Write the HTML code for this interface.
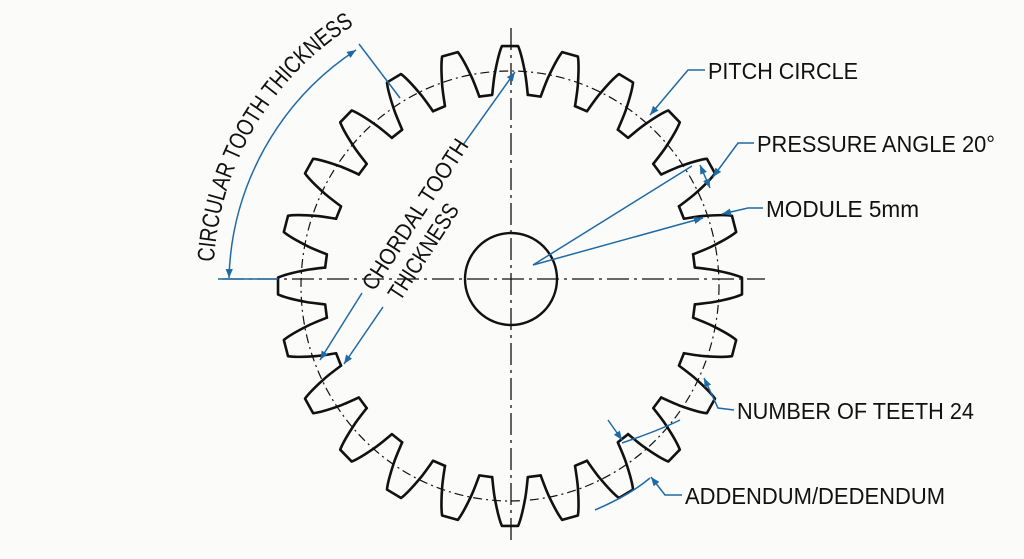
<!DOCTYPE html>
<html><head><meta charset="utf-8"><style>
html,body{margin:0;padding:0;background:#fbfbfa;}
svg{display:block}
text{font-family:"Liberation Sans",sans-serif;fill:#111;}
</style></head><body>
<svg width="1024" height="559" viewBox="0 0 1024 559" xmlns="http://www.w3.org/2000/svg">
<defs>
<marker id="a" viewBox="0 0 10 10" refX="10" refY="5" markerWidth="9" markerHeight="9" orient="auto-start-reverse" markerUnits="userSpaceOnUse"><path d="M0,1 L10,5 L0,9 Z" fill="#1f6aa5"/></marker>
<path id="arcT" d="M214,262 A298,298 0 0 1 370,16" fill="none"/>
<path id="t" d="M-31.7,-189.4 L-18.4,-191.1 Q-17,-205 -15.9,-211.4 Q-12,-232 -8.4,-239.9 L8.4,-239.9 Q12,-232 15.9,-211.4 Q17,-205 18.4,-191.1" fill="none" stroke="#111" stroke-width="2.6" stroke-linejoin="round" stroke-linecap="round" vector-effect="non-scaling-stroke"/>
</defs>
<rect width="1024" height="559" fill="#fbfbfa"/>
<line x1="511" y1="28" x2="511" y2="540" stroke="#111" stroke-width="1.3" stroke-dasharray="22,5,3,5"/>
<line x1="222" y1="279" x2="765" y2="279" stroke="#111" stroke-width="1.3" stroke-dasharray="22,5,3,5"/>
<ellipse cx="510" cy="286" rx="209" ry="215" fill="none" stroke="#111" stroke-width="1.2" stroke-dasharray="9,4,2,4"/>
<g transform="translate(510,286) scale(0.967,1)">
<use href="#t" transform="rotate(0)"/><use href="#t" transform="rotate(15)"/><use href="#t" transform="rotate(30)"/><use href="#t" transform="rotate(45)"/>
<use href="#t" transform="rotate(60)"/><use href="#t" transform="rotate(75)"/><use href="#t" transform="rotate(90)"/><use href="#t" transform="rotate(105)"/>
<use href="#t" transform="rotate(120)"/><use href="#t" transform="rotate(135)"/><use href="#t" transform="rotate(150)"/><use href="#t" transform="rotate(165)"/>
<use href="#t" transform="rotate(180)"/><use href="#t" transform="rotate(195)"/><use href="#t" transform="rotate(210)"/><use href="#t" transform="rotate(225)"/>
<use href="#t" transform="rotate(240)"/><use href="#t" transform="rotate(255)"/><use href="#t" transform="rotate(270)"/><use href="#t" transform="rotate(285)"/>
<use href="#t" transform="rotate(300)"/><use href="#t" transform="rotate(315)"/><use href="#t" transform="rotate(330)"/><use href="#t" transform="rotate(345)"/>
</g>
<circle cx="511" cy="279" r="46" fill="none" stroke="#111" stroke-width="2.4"/>
<g stroke="#1f6aa5" stroke-width="1.5" fill="none">
<path d="M229,278 A282,282 0 0 1 356,50" marker-start="url(#a)" marker-end="url(#a)"/>
<line x1="218" y1="279" x2="278" y2="279"/>
<line x1="359" y1="44" x2="400" y2="98"/>
<line x1="463" y1="145" x2="515" y2="72" marker-end="url(#a)"/>
<line x1="362" y1="293" x2="320" y2="360" marker-end="url(#a)"/>
<line x1="383" y1="307" x2="344" y2="364" marker-end="url(#a)"/>
<polyline points="705,70 688,70 650,115" marker-end="url(#a)"/>
<polyline points="754,143 738,143 713,177" marker-end="url(#a)"/>
<line x1="700" y1="165" x2="710" y2="188" marker-start="url(#a)" marker-end="url(#a)"/>
<polyline points="763,208 748,208 722,214" marker-end="url(#a)"/>
<line x1="533" y1="265" x2="692" y2="166"/>
<line x1="533" y1="265" x2="703" y2="218" marker-end="url(#a)"/>
<polyline points="734,410 718,408 704,378" marker-end="url(#a)"/>
<polyline points="682,495 665,495 651,477" marker-end="url(#a)"/>
<line x1="608" y1="420" x2="622" y2="440" marker-end="url(#a)"/>
<path d="M622,443 Q660,430 680,420"/>
<path d="M595,510 Q630,495 650,478"/>
</g>
<g font-size="23">
<text x="708" y="79" textLength="150" lengthAdjust="spacingAndGlyphs">PITCH CIRCLE</text>
<text x="757" y="152" textLength="238" lengthAdjust="spacingAndGlyphs">PRESSURE ANGLE 20°</text>
<text x="766" y="217" textLength="153" lengthAdjust="spacingAndGlyphs">MODULE 5mm</text>
<text x="737" y="419" textLength="237" lengthAdjust="spacingAndGlyphs">NUMBER OF TEETH 24</text>
<text x="685" y="504" textLength="260" lengthAdjust="spacingAndGlyphs">ADDENDUM/DEDENDUM</text>
<text font-size="24"><textPath href="#arcT" textLength="286" lengthAdjust="spacingAndGlyphs">CIRCULAR TOOTH THICKNESS</textPath></text>
<text transform="translate(374,292) rotate(-57)" textLength="175" lengthAdjust="spacingAndGlyphs">CHORDAL TOOTH</text>
<text transform="translate(400,302) rotate(-57)" textLength="110" lengthAdjust="spacingAndGlyphs">THICKNESS</text>
</g>
</svg>
</body></html>
